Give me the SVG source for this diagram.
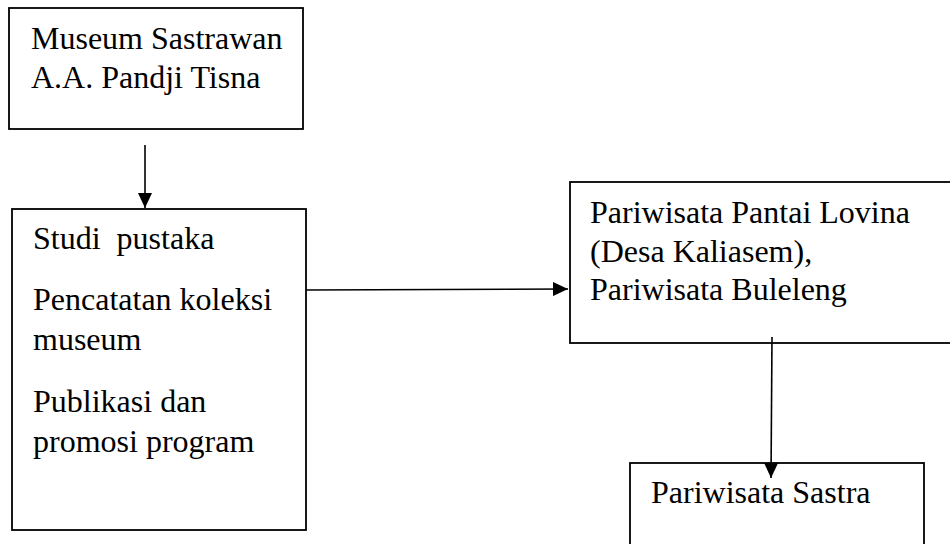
<svg xmlns="http://www.w3.org/2000/svg" width="950" height="544" viewBox="0 0 950 544">
<defs>
<marker id="arr" markerWidth="15" markerHeight="14" refX="15" refY="7" orient="auto" markerUnits="userSpaceOnUse">
<path d="M0,0 L15,7 L0,14 Z" fill="#000"/>
</marker>
<style>
.box{fill:#fff;stroke:#000;stroke-width:1.8}
.t{font-family:"Liberation Serif","Times New Roman",serif;font-size:32px;fill:#000}
.c{stroke:#000;stroke-width:1.6;fill:none}
</style>
</defs>
<rect width="950" height="544" fill="#fff"/>
<g id="museum">
<rect class="box" x="9" y="8" width="294" height="121"/>
<text class="t" x="31" y="49">Museum Sastrawan</text>
<text class="t" x="31" y="88">A.A. Pandji Tisna</text>
</g>
<g id="kegiatan">
<rect class="box" x="12" y="209" width="294" height="321"/>
<text class="t" x="33" y="249" xml:space="preserve">Studi  pustaka</text>
<text class="t" x="33" y="310">Pencatatan koleksi</text>
<text class="t" x="33" y="350">museum</text>
<text class="t" x="33" y="412">Publikasi dan</text>
<text class="t" x="33" y="452">promosi program</text>
</g>
<g id="pariwisata-lovina">
<rect class="box" x="570" y="182" width="400" height="161"/>
<text class="t" x="590" y="223">Pariwisata Pantai Lovina</text>
<text class="t" x="590" y="262">(Desa Kaliasem),</text>
<text class="t" x="590" y="300">Pariwisata Buleleng</text>
</g>
<g id="pariwisata-sastra">
<rect class="box" x="630" y="463" width="294" height="120"/>
<text class="t" x="651" y="503">Pariwisata Sastra</text>
</g>
<g id="connectors">
<line class="c" x1="145" y1="145" x2="145" y2="208" marker-end="url(#arr)"/>
<line class="c" x1="306" y1="290" x2="568" y2="289" marker-end="url(#arr)"/>
<line class="c" x1="772" y1="337" x2="771" y2="478" marker-end="url(#arr)"/>
</g>
</svg>
